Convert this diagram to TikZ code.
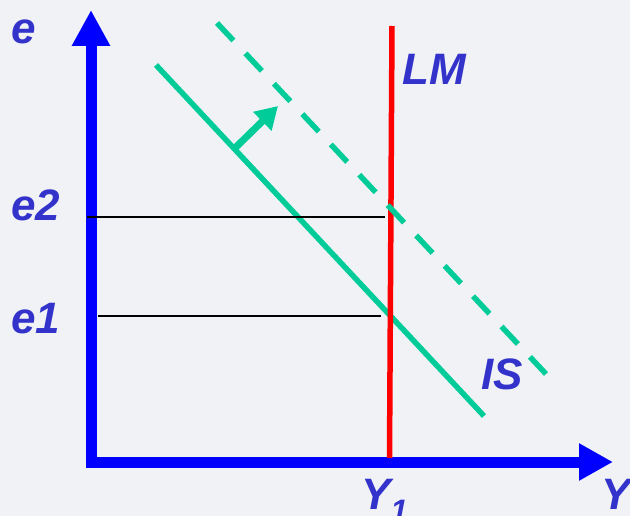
\documentclass[tikz,border=0pt]{standalone}
\usepackage{fontspec}
\setmainfont{Liberation Sans}
\usetikzlibrary{arrows.meta}
\definecolor{bgcol}{RGB}{240,242,246}
\definecolor{axisblue}{RGB}{0,0,255}
\definecolor{lblblue}{RGB}{51,51,204}
\definecolor{isgreen}{RGB}{0,204,153}
\definecolor{lmred}{RGB}{255,0,0}
\tikzset{
  axisline/.style={draw=axisblue, line width=11pt, line join=miter,
    arrows={Triangle[length=36pt,width=36pt]-Triangle[length=34pt,width=35pt]}},
  isline/.style={draw=isgreen, line width=5.5pt},
  isdash/.style={draw=isgreen, line width=5.5pt, dash pattern=on 24pt off 17.6pt},
  shiftarrow/.style={draw=isgreen, line width=7pt, arrows={-Triangle[length=22pt,width=25pt]}},
  lmline/.style={draw=lmred, line width=5.5pt},
  levelline/.style={draw=black, line width=2pt},
  lbl/.style={font=\fontsize{44}{44}\selectfont\bfseries\itshape, text=lblblue, inner sep=0pt, anchor=base west},
}
\begin{document}
\begin{tikzpicture}[x=1pt, y=-1pt]
\useasboundingbox (0,0) rectangle (630,516);
\clip (0,0) rectangle (630,516);
\fill[bgcol] (0,0) rectangle (630,516);
% coordinates
\coordinate (ytip) at (91,10);
\coordinate (corner) at (91,462);
\coordinate (xtip) at (613,462);
\coordinate (is0) at (156,65);
\coordinate (is1) at (484,416);
\coordinate (isd0) at (217,23);
\coordinate (isd1) at (546,374);
\coordinate (lm0) at (392,26);
\coordinate (lm1) at (389.5,458);
\coordinate (sh0) at (233,150);
\coordinate (sh1) at (278,106);
\coordinate (e2a) at (87,217);
\coordinate (e2b) at (385,217);
\coordinate (e1a) at (98,316);
\coordinate (e1b) at (381,316);
% axes
\draw[axisline] (ytip) -- (corner) -- (xtip);
% IS solid
\draw[isline] (is0) -- (is1);
\draw[shiftarrow] (sh0) -- (sh1);
% level lines
\draw[levelline] (e2a) -- (e2b);
\draw[levelline] (e1a) -- (e1b);
% LM
\draw[lmline] (lm0) -- (lm1);
% IS dashed
\draw[isdash] (isd0) -- (isd1);
% labels
\node[lbl] (le) at (11,44) {e};
\node[lbl] (le2) at (11,221) {e2};
\node[lbl] (le1) at (11,333) {e1};
\node[lbl] (llm) at (402,85) {LM};
\node[lbl] (lis) at (481,389) {IS};
\node[lbl] (ly1) at (361,509) {Y\raisebox{-12pt}{\fontsize{31}{31}\selectfont 1}};
\node[lbl] (ly) at (601,509) {Y};
\end{tikzpicture}
\end{document}
